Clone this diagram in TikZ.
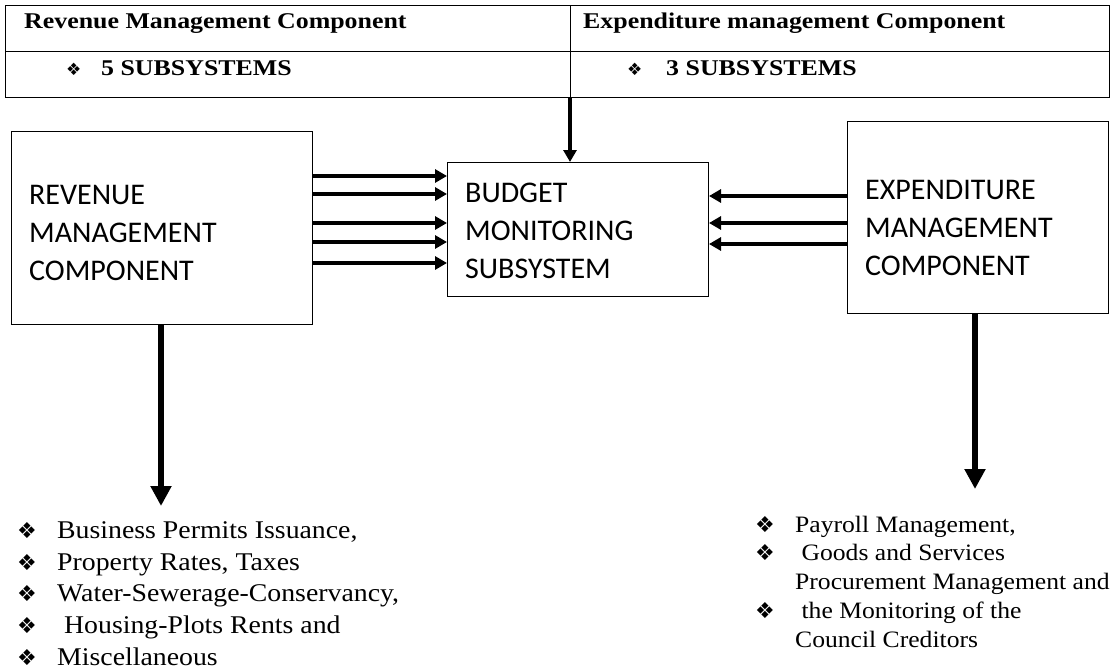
\documentclass[tikz,border=0pt]{standalone}
\usepackage{fontspec}
\setmainfont{Liberation Serif}
\newfontfamily\headfont[FakeStretch=1.15]{Liberation Serif}
\newfontfamily\listfont[FakeStretch=1.09]{Liberation Serif}
\newfontfamily\calfont{Carlito}
\newfontfamily\symfont{DejaVu Sans}
\usetikzlibrary{arrows.meta}
\newcommand\dia[1]{{\symfont\fontsize{#1}{#1}\selectfont\char"2756}}
\newcommand\litem[1]{\makebox[40pt][l]{\dia{#1}}}

\tikzset{
  box/.style={draw, line width=1pt, anchor=north west, inner sep=0pt},
  bigtxt/.style={font=\calfont\fontsize{30}{38}\selectfont, align=left, anchor=north west, inner sep=0pt},
  head/.style={font=\headfont\bfseries\fontsize{22.5}{26}\selectfont, anchor=base west, inner sep=0pt},
  listtxt/.style={anchor=north west, inner sep=0pt},
  flow/.style={line width=3.6pt, -{Triangle[length=12pt,width=13pt]}},
  drop/.style={line width=5.5pt, -{Triangle[length=20pt,width=20pt]}}
}

\begin{document}
\begin{tikzpicture}[x=1pt,y=-1pt]
  \useasboundingbox (0,0) rectangle (1116,669);

  % table on top
  \draw[line width=1pt] (5,6) rectangle (1109,97);
  \draw[line width=1pt] (5,52) -- (1109,52);
  \draw[line width=1pt] (570,6) -- (570,97);
  \coordinate (tab) at (570,97);
  \node[head] (revhead) at (24,29) {Revenue Management Component};
  \node[head] (exphead) at (583,29) {Expenditure management Component};
  \node[head] (revsub) at (66,76) {\makebox[35pt][l]{\dia{17}}5 SUBSYSTEMS};
  \node[head] (expsub) at (627,76) {\makebox[39pt][l]{\dia{17}}3 SUBSYSTEMS};

  % the three boxes
  \node[box, minimum width=301, minimum height=193] (rev) at (11,131) {};
  \node[bigtxt] (revtxt) at (29,185) {REVENUE\\MANAGEMENT\\COMPONENT};

  \node[box, minimum width=261, minimum height=134] (bud) at (447,162) {};
  \node[bigtxt] (budtxt) at (465,183) {BUDGET\\MONITORING\\SUBSYSTEM};

  \node[box, minimum width=261, minimum height=192] (exp) at (847,121) {};
  \node[bigtxt] (exptxt) at (865,180) {EXPENDITURE\\MANAGEMENT\\COMPONENT};

  % into the budget box
  \draw[flow] (tab) -- (tab |- bud.north);

  \draw[flow] (rev.east |- 0,176) -- (bud.west |- 0,176);
  \draw[flow] (rev.east |- 0,194) -- (bud.west |- 0,194);
  \draw[flow] (rev.east |- 0,223) -- (bud.west |- 0,223);
  \draw[flow] (rev.east |- 0,242) -- (bud.west |- 0,242);
  \draw[flow] (rev.east |- 0,263) -- (bud.west |- 0,263);

  \draw[flow] (exp.west |- 0,196) -- (bud.east |- 0,196);
  \draw[flow] (exp.west |- 0,223) -- (bud.east |- 0,223);
  \draw[flow] (exp.west |- 0,244) -- (bud.east |- 0,244);

  % down to the lists
  \coordinate (revend) at (161,506);
  \coordinate (expend) at (975,489);
  \draw[drop] (rev.south -| revend) -- (revend);
  \draw[drop] (exp.south -| expend) -- (expend);

  \node[listtxt] (revlist) at (17,516) {\listfont\fontsize{25.5}{31.7}\selectfont
    \begin{tabular}{@{}l@{}}
      \litem{22}Business Permits Issuance,\\
      \litem{22}Property Rates, Taxes\\
      \litem{22}Water-Sewerage-Conservancy,\\
      \litem{22}\ Housing-Plots Rents and\\
      \litem{22}Miscellaneous
    \end{tabular}};

  \node[listtxt] (explist) at (755,512) {\listfont\fontsize{23.5}{28.7}\selectfont
    \begin{tabular}{@{}l@{}}
      \litem{22}Payroll Management,\\
      \litem{22}\ Goods and Services\\
      \hspace{40pt}Procurement Management and\\
      \litem{22}\ the Monitoring of the\\
      \hspace{40pt}Council Creditors
    \end{tabular}};
\end{tikzpicture}
\end{document}
